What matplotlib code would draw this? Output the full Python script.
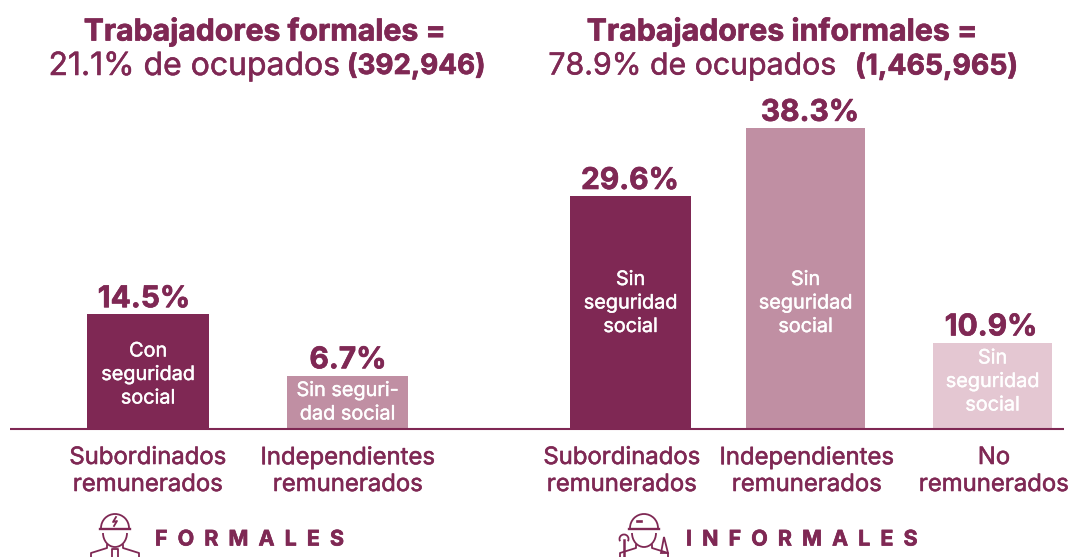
import matplotlib
matplotlib.use("Agg")
import matplotlib.pyplot as plt
import matplotlib.patheffects as pe
from matplotlib.patches import Arc, Polygon

plt.rcParams['font.family'] = ['Inter', 'DejaVu Sans']

# Data
values = [14.5, 6.7, 29.6, 38.3, 10.9]
value_labels = ["14.5%", "6.7%", "29.6%", "38.3%", "10.9%"]
inner_labels = ["Con\nseguridad\nsocial", "Sin seguri-\ndad social", "Sin\nseguridad\nsocial", "Sin\nseguridad\nsocial", "Sin\nseguridad\nsocial"]
categories = ["Subordinados\nremunerados", "Independientes\nremunerados", "Subordinados\nremunerados", "Independientes\nremunerados", "No\nremunerados"]

DARK = "#7F2854"
MID = "#C08FA3"
LIGHT = "#E4C7D2"
colors = [DARK, MID, DARK, MID, LIGHT]
lefts = [87, 287, 570, 746, 933]
widths = [122, 121, 121, 119, 119]
cat_x = [148, 348, 622, 807, 994]
label_x = [144, 348, 630, 810, 991]
inner_top = [351.5, 391, 280, 280, 358.5]

fig = plt.figure(figsize=(10.7, 5.57), dpi=100)
PX = 7.83
BASE = 428
ax = fig.add_axes([0, 0, 1, 1])
ax.set_xlim(0, 1070)
ax.set_ylim(-(557 - BASE) / PX, BASE / PX)
ax.axis("off")
ov = fig.add_axes([0, 0, 1, 1])
ov.set_xlim(0, 1070)
ov.set_ylim(557, 0)
ov.axis("off")
ov.patch.set_alpha(0)

ax.bar(lefts, values, width=widths, align="edge", color=colors, linewidth=0)
ov.plot([10, 1064], [428.5, 428.5], color=DARK, lw=1.5, solid_capstyle="butt")

def thick(color, w=0.5):
    return [pe.withStroke(linewidth=w, foreground=color)]

for i, v in enumerate(values):
    cx = lefts[i] + widths[i] / 2
    ax.text(label_x[i], v + 1.95, value_labels[i], ha="center", va="center",
            color=DARK, fontsize=21.5, fontweight="bold", path_effects=thick(DARK, 0.5))
    for j, line in enumerate(inner_labels[i].split("\n")):
        ov.text(cx, inner_top[i] + j * 23.5, line, ha="center", va="center",
                color="white", fontsize=14.3, path_effects=thick("white", 0.3))
    for j, line in enumerate(categories[i].split("\n")):
        ov.text(cat_x[i], 458 + j * 27, line, ha="center", va="center",
                color=DARK, fontsize=17.2, path_effects=thick(DARK, 0.4))

# Titles
ov.text(265, 31.5, "Trabajadores formales =", ha="center", va="center", color=DARK, fontsize=21.7, fontweight="bold", path_effects=thick(DARK, 0.5))
ov.text(340, 66.5, "21.1% de ocupados", ha="right", va="center", color=DARK, fontsize=23, path_effects=thick(DARK, 0.35))
ov.text(347, 66.5, "(392,946)", ha="left", va="center", color=DARK, fontsize=20, fontweight="bold", path_effects=thick(DARK, 0.5))
ov.text(782, 31.5, "Trabajadores informales =", ha="center", va="center", color=DARK, fontsize=21.8, fontweight="bold", path_effects=thick(DARK, 0.5))
ov.text(836, 66.5, "78.9% de ocupados", ha="right", va="center", color=DARK, fontsize=21.8, path_effects=thick(DARK, 0.35))
ov.text(855, 66.5, "(1,465,965)", ha="left", va="center", color=DARK, fontsize=20.4, fontweight="bold", path_effects=thick(DARK, 0.5))

# Footer labels
ov.text(155, 539.5, "F  O  R  M  A  L  E  S", ha="left", va="center", color=DARK, fontsize=15.4, fontweight="bold", path_effects=thick(DARK, 0.5))
ov.text(686, 539.5, "I  N  F  O  R  M  A  L  E  S", ha="left", va="center", color=DARK, fontsize=15.4, fontweight="bold", path_effects=thick(DARK, 0.5))

def icon(cx, wrench=False):
    lw = 1.3
    top = 513
    ov.add_patch(Arc((cx, top + 15), 28, 28, theta1=180, theta2=360, color=DARK, lw=lw))
    ov.plot([cx - 15, cx + 15], [top + 16, top + 16], color=DARK, lw=lw + .4)
    ov.add_patch(Arc((cx, top + 20), 24, 28, theta1=0, theta2=180, color=DARK, lw=lw))
    ov.plot([cx - 8, cx - 8, cx - 24, cx - 24], [top + 32, top + 35, top + 40, 557], color=DARK, lw=lw)
    ov.plot([cx + 8, cx + 8, cx + 24, cx + 24], [top + 32, top + 35, top + 40, 557], color=DARK, lw=lw)
    if wrench:
        ov.plot([cx - 20, cx - 20], [top + 27, 557], color=DARK, lw=lw + .5)
        ov.add_patch(Arc((cx - 20, top + 26), 9, 9, theta1=150, theta2=30, color=DARK, lw=lw))
        ov.add_patch(Polygon([[cx + 17, top + 40], [cx + 20, top + 24], [cx + 24, top + 40]], closed=True, fill=False, ec=DARK, lw=lw))
        ov.plot([cx - 7, cx - 3], [top + 8, top + 8], color=DARK, lw=lw + .6)
    else:
        ov.plot([cx + 1, cx - 2, cx + 2, cx - 1], [top + 4, top + 9, top + 8, top + 13], color=DARK, lw=lw)
        ov.plot([cx - 3, cx - 3, cx + 3, cx + 3], [557, top + 36, top + 36, 557], color=DARK, lw=lw)

icon(115)
icon(644, wrench=True)

fig.savefig("out.png", dpi=100)
